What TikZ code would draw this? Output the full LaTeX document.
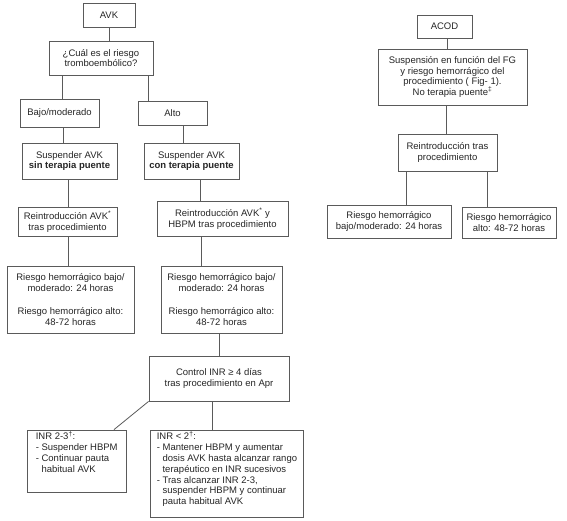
\documentclass[tikz,border=0pt]{standalone}
\usepackage{fontspec}
\setmainfont{Liberation Sans}
\definecolor{boxgray}{HTML}{5A5A5A}
\definecolor{txtc}{HTML}{262626}
\newcommand\dfont{\fontsize{9.5}{10.8}\selectfont}
\begin{document}
\begin{tikzpicture}[x=1pt,y=-1pt,
  box/.style={draw=boxgray, line width=0.8pt, inner sep=1pt, align=center, font=\dfont, text=txtc},
  ltext/.style={inner sep=0pt, align=left, font=\dfont, text=txtc, anchor=north west},
  link/.style={draw=boxgray, line width=0.8pt}]
\useasboundingbox[fill=white] (0,0) rectangle (567,521);

% AVK branch
\node[box, minimum width=52pt, minimum height=24pt] (avk) at (109,15) {AVK};
\node[box, minimum width=104pt, minimum height=34pt] (cual) at (101,58) {¿Cuál es el riesgo\\tromboembólico?};
\node[box, minimum width=79pt, minimum height=28pt] (bajo) at (59.5,113) {Bajo/moderado};
\node[box, minimum width=69pt, minimum height=24pt] (alto) at (172.5,113) {Alto};
\node[box, minimum width=95pt, minimum height=36pt] (sin) at (69.5,161) {Suspender AVK\\\textbf{sin terapia puente}};
\node[box, minimum width=95pt, minimum height=36pt] (con) at (191.5,161) {Suspender AVK\\\textbf{con terapia puente}};
\node[box, minimum width=99pt, minimum height=29pt] (re1) at (67.5,221.5) {Reintroducción AVK\textsuperscript{*}\\tras procedimiento};
\node[box, minimum width=131pt, minimum height=35pt] (re2) at (222.5,218.5) {Reintroducción AVK\textsuperscript{*} y\\HBPM tras procedimiento};
\node[box, minimum width=127pt, minimum height=67pt] (r1) at (70.5,299.5) {Riesgo hemorrágico bajo/\\moderado: 24 horas\\[13pt]Riesgo hemorrágico alto:\\48-72 horas};
\node[box, minimum width=121pt, minimum height=67pt] (r2) at (221.5,299.5) {Riesgo hemorrágico bajo/\\moderado: 24 horas\\[13pt]Riesgo hemorrágico alto:\\48-72 horas};
\node[box, minimum width=140pt, minimum height=45pt] (ctrl) at (219,378.5) {Control INR ≥ 4 días\\tras procedimiento en Apr};
\node[box, minimum width=99pt, minimum height=62pt] (inr1) at (76.5,461) {};
\node[ltext, xshift=9pt, yshift=-1.5pt] (inr1t) at (inr1.north west) {INR 2-3\textsuperscript{\textdagger}:\\- Suspender HBPM\\- Continuar pauta\\\hphantom{- }habitual AVK};
\node[box, minimum width=153pt, minimum height=87pt] (inr2) at (226.5,473.5) {};
\node[ltext, xshift=7pt, yshift=-1.5pt] (inr2t) at (inr2.north west) {\fontsize{9.5}{11.3}\selectfont INR < 2\textsuperscript{\textdagger}:\\- Mantener HBPM y aumentar\\\hphantom{- }dosis AVK hasta alcanzar rango\\\hphantom{- }terapéutico en INR sucesivos\\- Tras alcanzar INR 2-3,\\\hphantom{- }suspender HBPM y continuar\\\hphantom{- }pauta habitual AVK};

% ACOD branch
\node[box, minimum width=55pt, minimum height=23pt] (acod) at (444.5,26.5) {ACOD};
\node[box, minimum width=149pt, minimum height=56pt] (susp) at (452.5,77) {Suspensión en función del FG\\y riesgo hemorrágico del\\procedimiento ( Fig- 1).\\No terapia puente\textsuperscript{\textdaggerdbl}};
\node[box, minimum width=99pt, minimum height=37pt] (reA) at (447.5,152.5) {Reintroducción tras\\procedimiento};
\node[box, minimum width=124pt, minimum height=33pt] (rA1) at (389,221.5) {Riesgo hemorrágico\\bajo/moderado: 24 horas};
\node[box, minimum width=94pt, minimum height=31pt] (rA2) at (509,222.5) {Riesgo hemorrágico\\alto: 48-72 horas};

% connectors
\draw[link] (avk.south) -- (cual.north -| avk.south);
\draw[link] (cual.south -| 62,0) -- (bajo.north -| 62,0);
\draw[link] (cual.south -| 148,0) -- (alto.north -| 148,0);
\draw[link] (bajo.south -| 63,0) -- (sin.north -| 63,0);
\draw[link] (alto.south -| 183,0) -- (con.north -| 183,0);
\draw[link] (sin.south -| 68,0) -- (re1.north -| 68,0);
\draw[link] (con.south -| 200,0) -- (re2.north -| 200,0);
\draw[link] (re1.south -| 68,0) -- (r1.north -| 68,0);
\draw[link] (re2.south -| 201,0) -- (r2.north -| 201,0);
\draw[link] (r2.south -| 219,0) -- (ctrl.north -| 219,0);
\draw[link] (ctrl.south west) -- (inr1.north -| 114,0);
\draw[link] (ctrl.south -| 212,0) -- (inr2.north -| 212,0);
\draw[link] (acod.south -| 447,0) -- (susp.north -| 447,0);
\draw[link] (susp.south -| 446,0) -- (reA.north -| 446,0);
\draw[link] (reA.south -| 406,0) -- (rA1.north -| 406,0);
\draw[link] (reA.south -| 487,0) -- (rA2.north -| 487,0);
\end{tikzpicture}
\end{document}
